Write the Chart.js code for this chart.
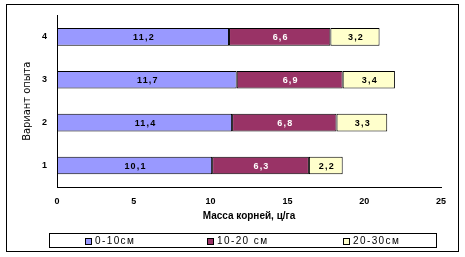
<!DOCTYPE html>
<html>
<head>
<meta charset="utf-8">
<script src="https://cdn.jsdelivr.net/npm/chart.js@4/dist/chart.umd.min.js"></script>
<style>
  html, body { margin: 0; padding: 0; background: #fff; }
  #wrap { position: relative; width: 465px; height: 257px; }
  canvas { display: block; }
  #frame { position: absolute; left: 6px; top: 4px; width: 453px; height: 248px; border: 1px solid #000; box-sizing: border-box; pointer-events: none; }
  #legend { position: absolute; left: 49px; top: 233px; width: 388px; height: 15px; border: 1px solid #000; box-sizing: border-box;
            font: 10px "Liberation Sans", Arial, sans-serif; letter-spacing: 1.4px; color: #000; }
  .item { position: absolute; top: 1px; line-height: 11px; white-space: nowrap; }
  .sw { display: inline-block; width: 7px; height: 7px; border: 1px solid #000; margin-right: 3px; vertical-align: -1px; box-sizing: border-box; }
</style>
</head>
<body>
<div id="wrap">
  <canvas id="chart" width="465" height="257"></canvas>
  <div id="frame"></div>
  <div id="legend"></div>
</div>
<script>
const categories = ['1', '2', '3', '4'];
const layer0to10 = [10.1, 11.4, 11.7, 11.2];
const layer10to20 = [6.3, 6.8, 6.9, 6.6];
const layer20to30 = [2.2, 3.3, 3.4, 3.2];
const seriesNames = ['0-10см', '10-20 см', '20-30см'];
const xTicks = [0, 5, 10, 15, 20, 25];

// base colour, dark edge, light band, label colour
const palette = [
  { base: '#9999ff', dark: '#4d4d99', light: '#a8a8ff', text: '#000' },
  { base: '#993366', dark: '#4d1a33', light: '#a33d70', text: '#fff' },
  { base: '#ffffcc', dark: '#99997a', light: '#ffffd6', text: '#000' },
];

function barFill(p) {
  return ctx => {
    const el = ctx.element;
    if (!el || el.height === undefined || !isFinite(el.y)) return p.base;
    const top = el.y - el.height / 2, bottom = el.y + el.height / 2;
    const g = ctx.chart.ctx.createLinearGradient(0, top, 0, bottom);
    g.addColorStop(0, p.dark);
    g.addColorStop(0.35, p.light);
    g.addColorStop(0.55, p.base);
    g.addColorStop(1, p.dark);
    return g;
  };
}

const valueLabels = {
  id: 'valueLabels',
  afterDatasetsDraw(chart) {
    const c = chart.ctx;
    c.save();
    c.font = 'bold 9px "Liberation Sans", Arial, sans-serif';
    if ('letterSpacing' in c) c.letterSpacing = '1.2px';
    c.textAlign = 'center';
    c.textBaseline = 'middle';
    chart.data.datasets.forEach((ds, i) => {
      chart.getDatasetMeta(i).data.forEach((bar, j) => {
        const v = ds.data[j];
        c.fillStyle = palette[i].text;
        c.fillText(String(v).replace('.', ','), (bar.x + bar.base) / 2 + 1, bar.y + 1);
      });
    });
    c.restore();
  }
};

new Chart(document.getElementById('chart'), {
  type: 'bar',
  data: {
    labels: categories,
    datasets: [layer0to10, layer10to20, layer20to30].map((d, i) => ({
      label: seriesNames[i],
      data: d,
      backgroundColor: barFill(palette[i]),
      borderColor: '#000',
      borderWidth: 1,
      borderSkipped: false,
      barPercentage: 0.82,
      categoryPercentage: 0.5,
    })),
  },
  options: {
    indexAxis: 'y',
    responsive: false,
    animation: false,
    layout: { padding: { top: 9, right: 24, bottom: 0, left: 0 } },
    plugins: { legend: { display: false }, tooltip: { enabled: false } },
    scales: {
      x: {
        stacked: true, min: 0, max: 25,
        afterBuildTicks: s => { s.ticks = xTicks.map(v => ({ value: v })); },
        afterFit: s => { s.height = 70; },
        grid: { display: false, drawTicks: false },
        border: { color: '#000', width: 1 },
        ticks: { color: '#000', padding: 9, font: { family: '"Liberation Sans", Arial, sans-serif', size: 9, weight: 'bold' } },
        title: { display: true, text: 'Масса корней, ц/га', color: '#000', padding: { bottom: 35 },
                 font: { family: '"Liberation Sans", Arial, sans-serif', size: 10, weight: 'bold' } },
      },
      y: {
        stacked: true, reverse: true,
        afterFit: s => { s.width = 57; },
        grid: { display: false, drawTicks: false },
        border: { color: '#000', width: 1 },
        ticks: { color: '#000', padding: 10, font: { family: '"Liberation Sans", Arial, sans-serif', size: 9, weight: 'bold' } },
        title: { display: true, text: 'Вариант опыта', color: '#000', padding: { top: 21 },
                 font: { family: '"Liberation Sans Narrow", "DejaVu Sans Condensed", sans-serif', size: 11 } },
      },
    },
  },
  plugins: [valueLabels],
});

const legendX = [35, 157, 293];
document.getElementById('legend').innerHTML = seriesNames.map((n, i) =>
  `<span class="item" style="left:${legendX[i]}px"><span class="sw" style="background:${palette[i].base}"></span>${n}</span>`
).join('');
</script>
</body>
</html>
